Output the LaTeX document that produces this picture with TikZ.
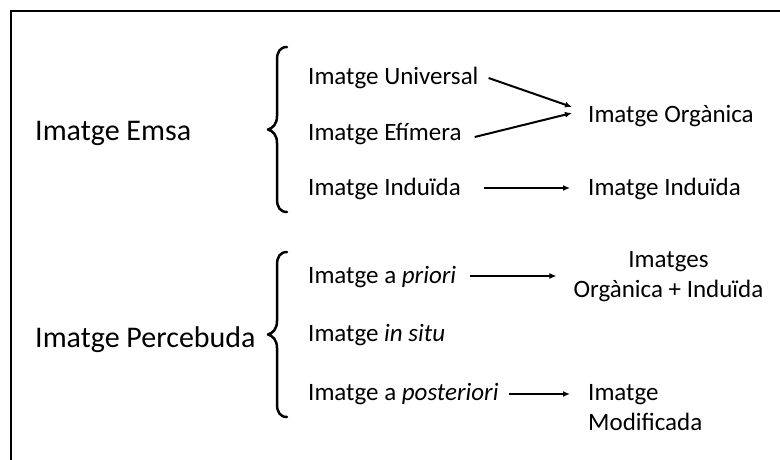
\documentclass[tikz,border=0pt]{standalone}
\usepackage{fontspec}
\setmainfont{Carlito}
\usetikzlibrary{arrows.meta}
\begin{document}
\begin{tikzpicture}[x=1pt,y=-1pt,
  item/.style={anchor=west,inner sep=0pt,text height=16pt,text depth=0pt,font=\fontsize{25}{30}\selectfont},
  head/.style={anchor=west,inner sep=0pt,text height=19pt,text depth=0pt,font=\fontsize{30}{36}\selectfont},
  multi/.style={inner sep=0pt,font=\fontsize{25}{30}\selectfont},
  arr/.style={line width=2pt,-{Latex[length=7pt,width=6pt]}},
  curlybrace/.pic={
    \draw[line width=2.5pt,line cap=round,line join=round]
      (0,0) .. controls (-7,0) and (-10,5) .. (-10,13) -- (-10,69)
      .. controls (-10,77) and (-14,81) .. (-19,82.5)
      .. controls (-14,84) and (-10,88) .. (-10,96) -- (-10,152)
      .. controls (-10,160) and (-7,165) .. (0,165);
  }]
\useasboundingbox (0,0) rectangle (780,459);
% frame
\draw[line width=1.5pt] (11,470) -- (11,11) -- (790,11);

% first group
\node[head] (emsa) at (35,130.5) {Imatge Emsa};
\pic at (287,47) {curlybrace};
\node[item] (univ) at (308,76) {Imatge Universal};
\node[item] (efim) at (308,132) {Imatge Efímera};
\node[item] (ind)  at (308,187) {Imatge Induïda};
\node[item] (org)  at (588,114) {Imatge Orgànica};
\node[item] (ind2) at (588,187) {Imatge Induïda};
\draw[arr] ([shift={(10,2)}]univ.east) -- ([shift={(-16,-7)}]org.west);
\draw[arr] ([shift={(13,5)}]efim.east) -- ([shift={(-16,-1)}]org.west);
\draw[arr] ([shift={(23,1)}]ind.east) -- ([shift={(-18,1)}]ind2.west);

% second group
\node[head] (perc) at (35,337.5) {Imatge Percebuda};
\pic at (287,252) {curlybrace};
\node[item] (prio) at (308,275) {Imatge a \textit{priori}};
\node[item] (situ) at (308,333) {Imatge \textit{in situ}};
\node[item] (post) at (308,392) {Imatge a \textit{posteriori}};
\node[multi,anchor=north,align=center] (oi) at (668.5,251) {Imatges\\Orgànica + Induïda};
\node[multi,anchor=north west,align=left] (mod) at (588,384) {Imatge\\Modificada};
\draw[arr] ([shift={(14,1)}]prio.east) -- ([shift={(-17,1)}]prio.east -| oi.west);
\draw[arr] ([shift={(10,2)}]post.east) -- ([shift={(-18,2)}]post.east -| mod.west);
\end{tikzpicture}
\end{document}
